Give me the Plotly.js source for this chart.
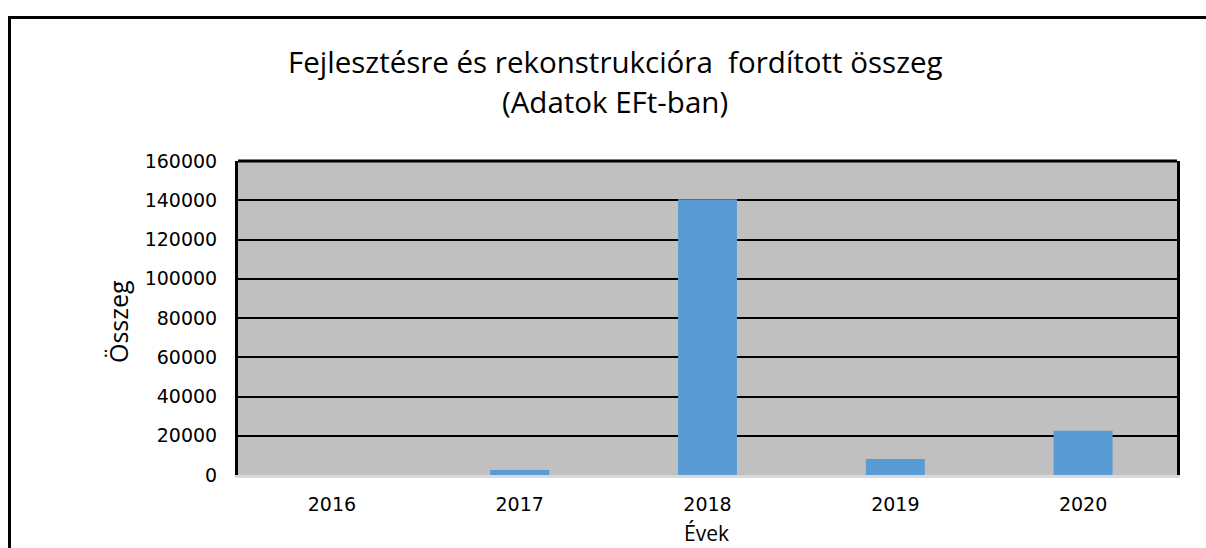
<!DOCTYPE html>
<html>
<head>
<meta charset="utf-8">
<script src="https://cdn.plot.ly/plotly-3.0.1.min.js"></script>
<style>
html,body{margin:0;padding:0;background:#fff;}
#chart{width:1206px;height:548px;}
</style>
</head>
<body>
<div id="chart"></div>
<script>
var years = ['2016', '2017', '2018', '2019', '2020'];
var amounts = [0, 2500, 140500, 8200, 22500];
var yTicks = [0, 20000, 40000, 60000, 80000, 100000, 120000, 140000, 160000];
var titleLine1 = 'Fejlesztésre és rekonstrukcióra  fordított összeg';
var titleLine2 = '(Adatok EFt-ban)';
var xTitle = 'Évek';
var yTitle = 'Összeg';

var L = 238, R = 1177, T = 161, B = 475, W = 1206, H = 548;
function px(x){ return (x - L) / (R - L); }
function py(y){ return (B - y) / (B - T); }

var trace = {
  type: 'bar',
  x: years,
  y: amounts,
  marker: {color: '#5b9bd5'},
  hoverinfo: 'x+y'
};

var titleFont = {family: '"Open Sans", Lato, sans-serif', size: 29.5, color: '#000'};
var xTitleFont = {family: '"Open Sans", Lato, sans-serif', size: 21, color: '#000'};
var yTitleFont = {family: '"Open Sans", Lato, sans-serif', size: 25, color: '#000'};
var tickFont = {family: '"DejaVu Sans", sans-serif', size: 19, color: '#000'};

var layout = {
  width: W, height: H,
  margin: {l: L, r: W - R, t: T, b: H - B, pad: 0},
  paper_bgcolor: '#ffffff',
  plot_bgcolor: '#c0c0c0',
  showlegend: false,
  bargap: 0.686,
  xaxis: {
    type: 'category',
    tickfont: tickFont,
    ticks: '',
    ticklabelstandoff: 10,
    showgrid: false,
    showline: true,
    linecolor: '#d9d9d9',
    linewidth: 3,
    zeroline: false,
    fixedrange: true
  },
  yaxis: {
    range: [0, 160000],
    tickvals: yTicks,
    ticktext: yTicks.map(String),
    tickfont: tickFont,
    ticks: '',
    ticklabelstandoff: 14,
    showgrid: true,
    gridcolor: '#000000',
    gridwidth: 2,
    showline: true,
    mirror: true,
    linecolor: '#000000',
    linewidth: 3,
    zeroline: false,
    fixedrange: true
  },
  annotations: [
    {text: titleLine1, xref: 'paper', yref: 'paper', x: px(615), y: py(61), xanchor: 'center', yanchor: 'middle', showarrow: false, font: titleFont},
    {text: titleLine2, xref: 'paper', yref: 'paper', x: px(615), y: py(102), xanchor: 'center', yanchor: 'middle', showarrow: false, font: titleFont},
    {text: xTitle, xref: 'paper', yref: 'paper', x: px(706), y: py(533), xanchor: 'center', yanchor: 'middle', showarrow: false, font: xTitleFont},
    {text: yTitle, xref: 'paper', yref: 'paper', x: px(118), y: py(322), xanchor: 'center', yanchor: 'middle', showarrow: false, textangle: -90, font: yTitleFont}
  ],
  shapes: [
    {type: 'line', xref: 'paper', yref: 'paper', x0: 0, x1: 1, y0: 1, y1: 1, line: {color: '#000', width: 3}},
    {type: 'rect', xref: 'paper', yref: 'paper', x0: px(9.5), x1: px(1230), y0: py(600), y1: py(17.5), line: {color: '#000', width: 3}, fillcolor: 'rgba(0,0,0,0)', layer: 'above'}
  ]
};

Plotly.newPlot('chart', [trace], layout, {displayModeBar: false, staticPlot: true});
</script>
</body>
</html>
